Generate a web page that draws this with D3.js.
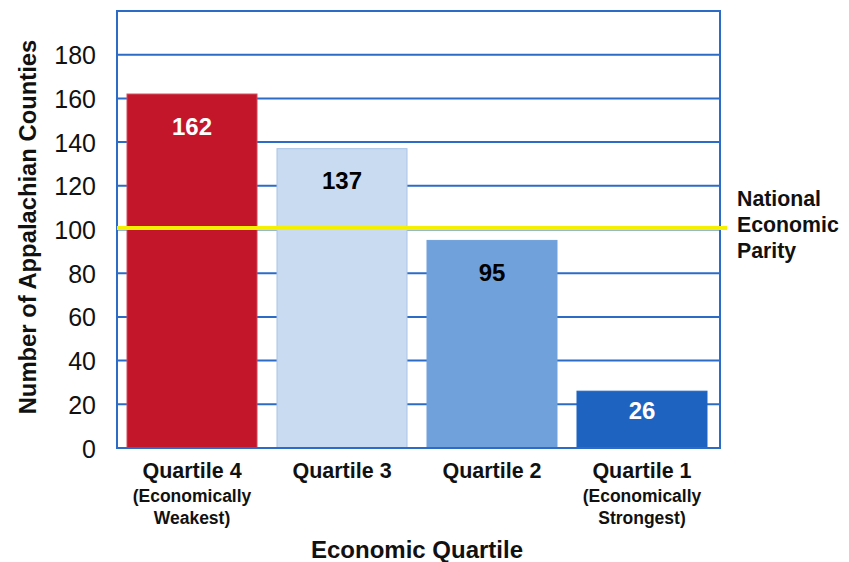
<!DOCTYPE html>
<html><head><meta charset="utf-8">
<script src="https://cdn.jsdelivr.net/npm/d3@7"></script>
<style>body{margin:0;background:#fff}svg{display:block;font-family:"Liberation Sans",Arial,sans-serif}</style>
</head><body><svg id="c" width="849" height="562"></svg>
<script>
const categories = ["Quartile 4", "Quartile 3", "Quartile 2", "Quartile 1"];
const subLabels = [["(Economically", "Weakest)"], [], [], ["(Economically", "Strongest)"]];
const values = [162, 137, 95, 26];
const barColors = ["#c3162b", "#c9dbf0", "#70a1da", "#1f63c1"];
const barStrokes = ["#d04a5a", "#a9c3e6", "#70a1da", "#1f63c1"];
const labelColors = ["#ffffff", "#000000", "#000000", "#ffffff"];
const yTicks = [0, 20, 40, 60, 80, 100, 120, 140, 160, 180];
const gridTicks = [20, 40, 60, 80, 100, 120, 140, 160, 180];
const parity = 100;

const svg = d3.select("#c");
const L = 117, R = 720, T = 11, B = 448;
const y = d3.scaleLinear().domain([0, 200]).range([B, T]);
const x = d3.scaleBand().domain(categories).range([L, 717]).paddingInner(0.1333).paddingOuter(0.0667);
const blue = "#2c6bc6";

// gridlines
svg.append("g").selectAll("line").data(gridTicks).join("line")
  .attr("x1", L).attr("x2", R).attr("y1", d => y(d)).attr("y2", d => y(d))
  .attr("stroke", blue).attr("stroke-width", 2);

// bars
svg.append("g").selectAll("rect").data(values).join("rect")
  .attr("x", (d, i) => x(categories[i])).attr("width", x.bandwidth())
  .attr("y", d => y(d)).attr("height", d => B - y(d))
  .attr("fill", (d, i) => barColors[i]).attr("stroke", (d, i) => barStrokes[i]).attr("stroke-width", 1);

// frame
svg.append("rect").attr("x", L).attr("y", T).attr("width", R - L).attr("height", B - T)
  .attr("fill", "none").attr("stroke", blue).attr("stroke-width", 2);

// parity line
svg.append("line").attr("x1", L).attr("x2", 727).attr("y1", y(parity) - 1.5).attr("y2", y(parity) - 1.5)
  .attr("stroke", "#f5f000").attr("stroke-width", 4);

// value labels
svg.append("g").selectAll("text").data(values).join("text")
  .attr("x", (d, i) => x(categories[i]) + x.bandwidth() / 2)
  .attr("y", d => y(d) + Math.min(32, (B - y(d)) / 3))
  .attr("dy", "0.36em")
  .attr("text-anchor", "middle").attr("font-weight", "bold").attr("font-size", 24)
  .attr("fill", (d, i) => labelColors[i]).text(d => d);

// y axis labels
const ya = svg.append("g").attr("transform", `translate(${L - 21},0)`)
  .call(d3.axisLeft(y).tickValues(yTicks).tickSize(0).tickPadding(0));
ya.select(".domain").remove();
ya.selectAll("text").attr("font-size", 25).attr("font-family", "Liberation Sans, Arial, sans-serif").attr("fill", "#111").attr("dy", "0.36em");

// x axis labels
const xa = svg.append("g").attr("transform", `translate(0,${B})`)
  .call(d3.axisBottom(x).tickSize(0).tickPadding(0));
xa.select(".domain").remove();
xa.selectAll("text").remove();
xa.selectAll(".tick").each(function(d, i) {
  const g = d3.select(this);
  g.append("text").attr("y", 22).attr("dy", "0.36em").attr("text-anchor", "middle").attr("font-weight", "bold")
    .attr("font-size", 21.5).attr("fill", "#111").text(d);
  subLabels[i].forEach((s, j) => {
    g.append("text").attr("y", 48 + j * 22).attr("dy", "0.36em").attr("text-anchor", "middle").attr("font-weight", "bold")
      .attr("font-size", 17.5).attr("fill", "#111").text(s);
  });
});

// axis titles
svg.append("text").attr("x", 417).attr("y", 549).attr("dy", "0.36em").attr("text-anchor", "middle")
  .attr("font-weight", "bold").attr("font-size", 24).attr("fill", "#111").text("Economic Quartile");
svg.append("text").attr("transform", "translate(27,227) rotate(-90)").attr("dy", "0.36em").attr("text-anchor", "middle")
  .attr("font-weight", "bold").attr("font-size", 23.8).attr("fill", "#111").text("Number of Appalachian Counties");

// parity annotation
["National", "Economic", "Parity"].forEach((s, i) => {
  svg.append("text").attr("x", 737).attr("y", 198 + i * 26).attr("dy", "0.36em").attr("font-weight", "bold")
    .attr("font-size", 21.3).attr("fill", "#111").text(s);
});
</script></body></html>
